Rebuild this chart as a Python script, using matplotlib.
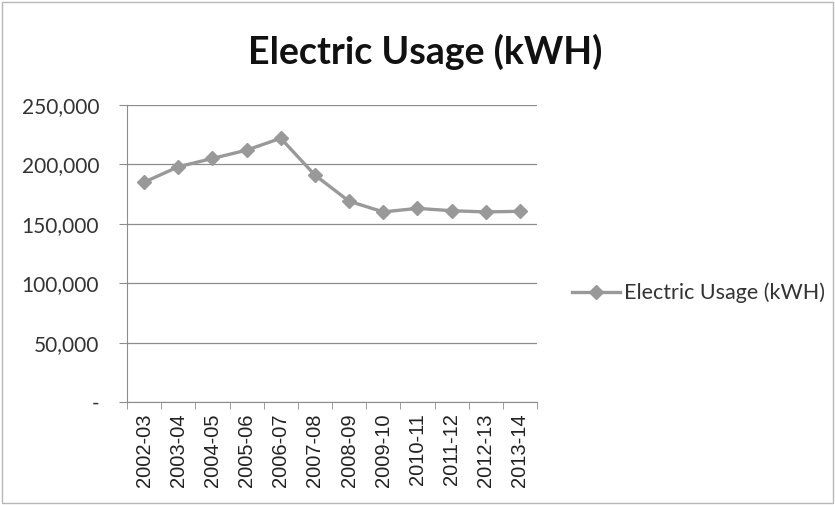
import matplotlib
matplotlib.use("Agg")
import matplotlib.pyplot as plt
from matplotlib.ticker import FuncFormatter, FixedLocator
from matplotlib.patches import Rectangle

years = ["2002-03", "2003-04", "2004-05", "2005-06", "2006-07", "2007-08",
         "2008-09", "2009-10", "2010-11", "2011-12", "2012-13", "2013-14"]
usage = [185000, 198000, 205000, 212000, 222000, 191000,
         169000, 160000, 163000, 161000, 160000, 160500]
yticks = [0, 50000, 100000, 150000, 200000, 250000]

fig = plt.figure(figsize=(8.35, 5.05), dpi=100)
fig.patch.set_facecolor("white")
fig.patches.append(Rectangle((0.002, 0.004), 0.996, 0.992, transform=fig.transFigure,
                             fill=False, edgecolor="#b8b8b8", linewidth=1.0))

W, H = 835, 505
L, R, T, B = 127, 537, 105, 402
ax = fig.add_axes([L / W, 1 - B / H, (R - L) / W, (B - T) / H])

x = list(range(len(years)))
line, = ax.plot(x, usage, color="#999999", linewidth=2.4, marker="D", markersize=7,
                markerfacecolor="#999999", markeredgecolor="#999999",
                label="Electric Usage (kWH)", zorder=3)

ax.set_xlim(-0.5, len(years) - 0.5)
ax.set_ylim(0, 250000)
ax.set_yticks(yticks)
ax.yaxis.set_major_formatter(FuncFormatter(lambda v, p: "-" if v == 0 else f"{int(v):,}"))
ax.yaxis.grid(True, color="#8c8c8c", linewidth=0.9)
ax.set_axisbelow(True)

ax.set_xticks(x)
ax.set_xticklabels(years, rotation=90, fontsize=14.5, family="Liberation Sans", color="#222222")
ax.tick_params(axis="x", which="major", length=0, pad=8)
ax.xaxis.set_minor_locator(FixedLocator([i - 0.5 for i in range(len(years) + 1)]))
ax.tick_params(axis="x", which="minor", length=5, color="#8c8c8c", direction="out")
ax.tick_params(axis="y", length=6, color="#8c8c8c", labelsize=15, labelcolor="#333333", pad=14)
for lab in ax.get_yticklabels():
    lab.set_family("Lato")

for s in ["top", "right"]:
    ax.spines[s].set_visible(False)
ax.spines["left"].set_color("#8c8c8c")
ax.spines["bottom"].set_color("#8c8c8c")

fig.text(425 / W, 1 - 52 / H, "Electric Usage (kWH)", ha="center", va="center",
         fontsize=27, fontweight="bold", family="Lato", color="#111111")

leg = fig.legend(handles=[line], loc="center left", bbox_to_anchor=(563 / W, 1 - 293 / H),
                 frameon=False, handlelength=2.25, handletextpad=0.2, borderpad=0.4,
                 borderaxespad=0.0, prop={"family": "Lato", "size": 15.5})
for t in leg.get_texts():
    t.set_color("#333333")

fig.savefig("out.png", dpi=100, facecolor="white")
